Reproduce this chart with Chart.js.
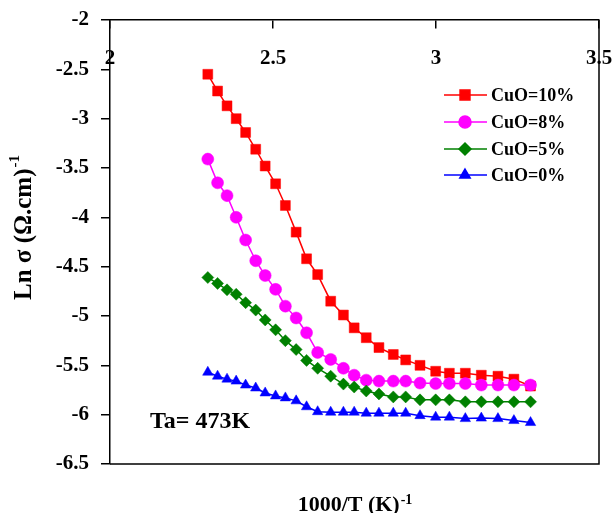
<!DOCTYPE html>
<html>
<head>
<meta charset="utf-8">
<script src="https://cdn.jsdelivr.net/npm/chart.js@4.4.1/dist/chart.umd.min.js"></script>
<style>
  body { margin: 0; background: #fff; }
</style>
</head>
<body>
<canvas id="myChart" width="616" height="513"></canvas>
<script>
// 1000/T values shared by all four runs
var invT = [2.30, 2.33, 2.359, 2.387, 2.416, 2.447, 2.476, 2.508, 2.538, 2.571, 2.603, 2.637, 2.677, 2.716,
            2.749, 2.786, 2.825, 2.869, 2.907, 2.951, 2.999, 3.041, 3.090, 3.139, 3.190, 3.239, 3.290];

var cuo10 = [-2.55, -2.72, -2.87, -3.00, -3.14, -3.31, -3.48, -3.66, -3.88, -4.15, -4.42, -4.58, -4.85, -4.99,
             -5.12, -5.22, -5.32, -5.39, -5.445, -5.50, -5.56, -5.58, -5.58, -5.60, -5.61, -5.64, -5.71];
var cuo8 = [-3.41, -3.65, -3.78, -4.00, -4.23, -4.44, -4.59, -4.73, -4.90, -5.02, -5.17, -5.37, -5.44, -5.53,
            -5.60, -5.65, -5.66, -5.66, -5.66, -5.68, -5.685, -5.685, -5.685, -5.70, -5.70, -5.70, -5.70];
var cuo5 = [-4.61, -4.67, -4.735, -4.78, -4.865, -4.94, -5.04, -5.14, -5.25, -5.34, -5.45, -5.53, -5.61, -5.69,
            -5.72, -5.76, -5.79, -5.82, -5.82, -5.85, -5.85, -5.85, -5.87, -5.87, -5.87, -5.87, -5.87];
var cuo0 = [-5.57, -5.61, -5.64, -5.66, -5.70, -5.73, -5.78, -5.81, -5.83, -5.86, -5.92, -5.97, -5.975, -5.975,
            -5.975, -5.985, -5.985, -5.985, -5.985, -6.01, -6.025, -6.025, -6.04, -6.035, -6.04, -6.06, -6.08];

var seriesLabels = ["CuO=10%", "CuO=8%", "CuO=5%", "CuO=0%"];
var xTicks = [2, 2.5, 3, 3.5];
var yTicks = [-2, -2.5, -3, -3.5, -4, -4.5, -5, -5.5, -6, -6.5];
var annealText = "Ta= 473K";

var serif = "'Liberation Serif', 'Times New Roman', serif";

function toPoints(ys) {
    return ys.map(function(v, i) { return {x: invT[i], y: v}; });
}

function makeSet(label, ys, color, style, radius, order) {
    return {
        label: label,
        data: toPoints(ys),
        borderColor: color,
        backgroundColor: color,
        borderWidth: 1.5,
        pointStyle: style,
        pointRadius: radius,
        pointBorderWidth: 0.5,
        pointBackgroundColor: color,
        pointBorderColor: color,
        tension: 0,
        order: order
    };
}

function plainLabel(v) {
    return String(v);
}

var framePlugin = {
    id: 'frame',
    beforeDatasetsDraw: function(chart) {
        var a = chart.chartArea, ctx = chart.ctx;
        ctx.save();
        ctx.strokeStyle = '#000';
        ctx.lineWidth = 1.5;
        ctx.beginPath();
        ctx.moveTo(a.right, a.top);
        ctx.lineTo(a.right, a.bottom);
        ctx.lineTo(a.left, a.bottom);
        ctx.stroke();
        ctx.restore();
    }
};

var textPlugin = {
    id: 'texts',
    afterDraw: function(chart) {
        var ctx = chart.ctx, a = chart.chartArea;
        ctx.save();
        ctx.fillStyle = '#000';
        ctx.textBaseline = 'alphabetic';
        ctx.textAlign = 'left';

        // legend inside the plot
        var rows = [95, 122, 149, 175];
        chart.data.datasets.forEach(function(ds, i) {
            var y = rows[i];
            ctx.strokeStyle = ds.borderColor;
            ctx.lineWidth = 1.5;
            ctx.beginPath();
            ctx.moveTo(444, y);
            ctx.lineTo(487, y);
            ctx.stroke();
            ctx.fillStyle = ds.backgroundColor;
            Chart.helpers.drawPoint(ctx, {pointStyle: ds.pointStyle, radius: ds.pointRadius, borderWidth: 0.5, rotation: 0}, 465, y);
            ctx.fillStyle = '#000';
            ctx.font = 'bold 18px ' + serif;
            ctx.textBaseline = 'middle';
            ctx.fillText(ds.label, 491, y + 1);
        });

        // annealing temperature note
        ctx.textBaseline = 'alphabetic';
        ctx.font = 'bold 24px ' + serif;
        ctx.fillText(annealText, 150, 428);

        // x title with superscript
        var main = '1000/T (K)', sup = '-1';
        ctx.font = 'bold 22px ' + serif;
        var w1 = ctx.measureText(main).width;
        ctx.font = 'bold 14px ' + serif;
        var w2 = ctx.measureText(sup).width;
        var x0 = (a.left + a.right) / 2 - (w1 + w2) / 2;
        ctx.font = 'bold 22px ' + serif;
        ctx.fillText(main, x0, 511);
        ctx.font = 'bold 14px ' + serif;
        ctx.fillText(sup, x0 + w1 + 1, 504);

        // y title with superscript
        main = 'Ln \u03c3 (\u03a9.cm)';
        ctx.font = 'bold 25px ' + serif;
        w1 = ctx.measureText(main).width;
        ctx.font = 'bold 15px ' + serif;
        w2 = ctx.measureText(sup).width;
        var mid = (a.top + a.bottom) / 2 - 14;
        ctx.translate(31, mid + (w1 + w2) / 2);
        ctx.rotate(-Math.PI / 2);
        ctx.font = 'bold 25px ' + serif;
        ctx.fillText(main, 0, 0);
        ctx.font = 'bold 15px ' + serif;
        ctx.fillText(sup, w1 + 1, -12);
        ctx.restore();
    }
};

var cx = document.getElementById('myChart');
var myChart = new Chart(cx, {
    type: 'line',
    data: {
        datasets: [
            makeSet(seriesLabels[0], cuo10, '#FF0000', 'rect', 7, 4),
            makeSet(seriesLabels[1], cuo8, '#FF00FF', 'circle', 6, 3),
            makeSet(seriesLabels[2], cuo5, '#008000', 'rectRot', 6, 2),
            makeSet(seriesLabels[3], cuo0, '#0000FF', 'triangle', 6, 1)
        ]
    },
    options: {
        responsive: false,
        animation: false,
        layout: { padding: { top: 20, right: 17, bottom: 49, left: 0 } },
        plugins: {
            legend: { display: false },
            tooltip: { enabled: false }
        },
        scales: {
            x: {
                type: 'linear',
                position: { y: -2 },
                min: 2,
                max: 3.5,
                afterBuildTicks: function(s) { s.ticks = xTicks.map(function(v) { return {value: v}; }); },
                afterFit: function(s) { s.height = 0; s.paddingLeft = 0; s.paddingRight = 0; },
                grid: { drawOnChartArea: false, drawTicks: true, tickLength: 8, color: '#000', lineWidth: 1.5 },
                border: { display: true, color: '#000', width: 1.5 },
                ticks: { color: '#000', padding: 18, maxRotation: 0, callback: plainLabel,
                         font: { family: serif, size: 21, weight: 'bold' } }
            },
            y: {
                type: 'linear',
                position: 'left',
                min: -6.5,
                max: -2,
                afterBuildTicks: function(s) { s.ticks = yTicks.map(function(v) { return {value: v}; }); },
                afterFit: function(s) { s.width = 110; s.paddingTop = 0; s.paddingBottom = 0; },
                grid: { drawOnChartArea: false, drawTicks: true, tickLength: 9, color: '#000', lineWidth: 1.5 },
                border: { display: true, color: '#000', width: 1.5 },
                ticks: { color: '#000', padding: 12, callback: plainLabel,
                         font: { family: serif, size: 21, weight: 'bold' } }
            }
        }
    },
    plugins: [framePlugin, textPlugin]
});
</script>
</body>
</html>
